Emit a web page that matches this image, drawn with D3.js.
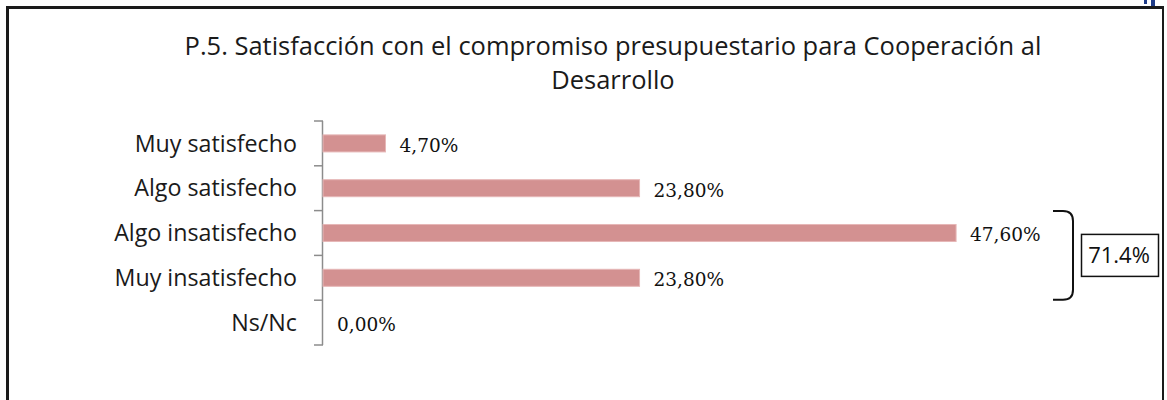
<!DOCTYPE html>
<html>
<head>
<meta charset="utf-8">
<script src="https://cdn.jsdelivr.net/npm/d3@7"></script>
<style>
  html, body { margin: 0; padding: 0; background: #fff; }
  svg { display: block; }
</style>
</head>
<body>
<svg id="chart" width="1167" height="400"></svg>
<script>
const categories = ["Muy satisfecho", "Algo satisfecho", "Algo insatisfecho", "Muy insatisfecho", "Ns/Nc"];
const values = [4.7, 23.8, 47.6, 23.8, 0.0];
const valueLabels = ["4,70%", "23,80%", "47,60%", "23,80%", "0,00%"];
const titleLines = ["P.5. Satisfacción con el compromiso presupuestario para Cooperación al", "Desarrollo"];
const groupedCategories = ["Algo insatisfecho", "Muy insatisfecho"];
const groupedLabel = "71.4%";

const svg = d3.select("#chart");

// Frame
svg.append("line").attr("x1", 7.5).attr("y1", 7.5).attr("x2", 1163).attr("y2", 7.5)
  .attr("stroke", "#1a1a1a").attr("stroke-width", 3);
svg.append("line").attr("x1", 7.5).attr("y1", 6).attr("x2", 7.5).attr("y2", 400)
  .attr("stroke", "#1a1a1a").attr("stroke-width", 3);
svg.append("line").attr("x1", 1163).attr("y1", 6).attr("x2", 1163).attr("y2", 400)
  .attr("stroke", "#1a1a1a").attr("stroke-width", 2);
svg.append("rect").attr("x", 1144).attr("y", 0).attr("width", 3).attr("height", 4).attr("fill", "#1f3c88");
svg.append("rect").attr("x", 1151).attr("y", 0).attr("width", 4).attr("height", 6).attr("fill", "#1f3c88");

// Title
const titleText = svg.append("g").selectAll("text").data(titleLines).join("text")
  .attr("x", 613).attr("y", (d, i) => 55 + i * 34)
  .attr("text-anchor", "middle")
  .attr("font-family", "'Open Sans', sans-serif")
  .attr("font-size", 22)
  .attr("fill", "#1a1a1a")
  .text(d => d);
{
  const w = titleText.nodes()[0].getComputedTextLength();
  titleText.attr("font-size", 22 * 857 / w);
}

// Scales
const x0 = 323;
const x = d3.scaleLinear().domain([0, 50]).range([x0, x0 + 665]);
const y = d3.scaleBand().domain(categories).range([121, 345]).paddingInner(0.62).paddingOuter(0.31);
const step = y.step();

// Axis
const axisG = svg.append("g");
axisG.append("line").attr("x1", x0 - 0.5).attr("x2", x0 - 0.5).attr("y1", 121).attr("y2", 345)
  .attr("stroke", "#8c8c8c").attr("stroke-width", 1.5);
const tickYs = categories.map(c => y(c) - step * 0.31).concat([y(categories[categories.length - 1]) - step * 0.31 + step]);
axisG.selectAll("line.tick").data(tickYs).join("line").attr("class", "tick")
  .attr("x1", x0 - 9).attr("x2", x0).attr("y1", d => d).attr("y2", d => d)
  .attr("stroke", "#8c8c8c").attr("stroke-width", 1.5);

// Category labels
const catText = svg.append("g").selectAll("text").data(categories).join("text")
  .attr("x", 297).attr("y", d => y(d) + y.bandwidth() / 2)
  .attr("dy", "0.35em")
  .attr("text-anchor", "end")
  .attr("font-family", "'Open Sans', sans-serif")
  .attr("font-size", 20)
  .attr("fill", "#1a1a1a")
  .text(d => d);
{
  const w = catText.filter(d => d === "Algo insatisfecho").node().getComputedTextLength();
  catText.attr("font-size", 20 * 183 / w);
}

// Bars
svg.append("g").selectAll("rect").data(values).join("rect")
  .attr("x", x(0)).attr("y", (d, i) => y(categories[i]))
  .attr("width", d => x(d) - x(0))
  .attr("height", y.bandwidth())
  .attr("fill", "#d39191")
  .attr("stroke", "#e6b7b7").attr("stroke-width", d => d > 0 ? 1 : 0);

// Value labels
svg.append("g").selectAll("text").data(values).join("text")
  .attr("x", (d, i) => x(d) + 14)
  .attr("y", (d, i) => y(categories[i]) + y.bandwidth() / 2 + 2)
  .attr("dy", "0.35em")
  .attr("font-family", "'DejaVu Serif', serif")
  .attr("font-size", 18.5)
  .attr("fill", "#111")
  .text((d, i) => valueLabels[i]);

// Bracket grouping
const gTop = y(groupedCategories[0]) - step * 0.31 + 0.5;
const gBot = y(groupedCategories[1]) - step * 0.31 + step - 0.5;
const bx0 = 1053, bx1 = 1073, r = 10;
const p = d3.path();
p.moveTo(bx0, gTop);
p.lineTo(bx1 - r, gTop);
p.quadraticCurveTo(bx1, gTop, bx1, gTop + r);
p.lineTo(bx1, gBot - r);
p.quadraticCurveTo(bx1, gBot, bx1 - r, gBot);
p.lineTo(bx0, gBot);
svg.append("path").attr("d", p.toString()).attr("fill", "none")
  .attr("stroke", "#111").attr("stroke-width", 2);

const midY = (gTop + gBot) / 2;
svg.append("rect").attr("x", 1081.5).attr("y", midY - 21).attr("width", 77).attr("height", 42)
  .attr("fill", "#fff").attr("stroke", "#111").attr("stroke-width", 1.5);
svg.append("text").attr("x", 1119).attr("y", midY).attr("dy", "0.35em")
  .attr("text-anchor", "middle")
  .attr("font-family", "'Open Sans', sans-serif")
  .attr("font-size", 22)
  .attr("fill", "#111")
  .text(groupedLabel);
</script>
</body>
</html>
